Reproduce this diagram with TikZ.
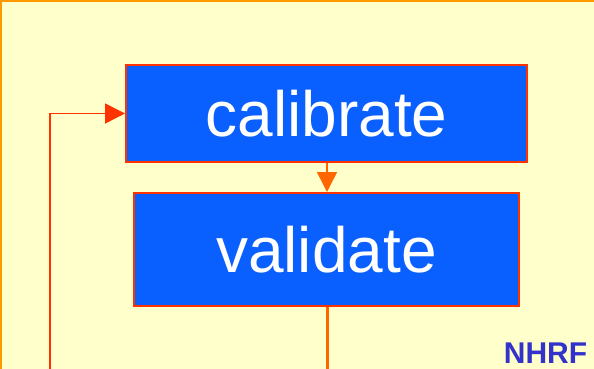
\documentclass[tikz,border=0pt]{standalone}
\usepackage{fontspec}
\setmainfont{Liberation Sans}
\usepackage{tikz}
\usepackage{xcolor}
\usetikzlibrary{arrows.meta,positioning,calc}

\definecolor{slidebg}{HTML}{FFFFCC}
\definecolor{slideframe}{HTML}{FF9900}
\definecolor{stepblue}{HTML}{0A5FFF}
\definecolor{redline}{HTML}{FF3300}
\definecolor{orangeline}{HTML}{FF6600}
\definecolor{logoblue}{HTML}{3333CC}

\begin{document}
\begin{tikzpicture}[x=1pt, y=-1pt, thick,
    stepbox/.style={draw=redline, line width=2pt, fill=stepblue, text=white,
        inner sep=0pt, font=\fontsize{64}{64}\selectfont},
    bigtip/.style={-{Triangle[length=20pt,width=20pt]}}]
    % slide background and frame
    \useasboundingbox (0,0) rectangle (594,369);
    \fill[slidebg] (0,0) rectangle (594,369);
    \fill[slideframe] (0,0) rectangle (594,2);
    \fill[slideframe] (0,0) rectangle (2,369);

    % Steps
    \node[stepbox, minimum width=401pt, minimum height=97pt] (calibrate) at (326.5,113.5) {calibrate};
    \node[stepbox, minimum width=385pt, minimum height=113pt] (validate) at (326.5,249.5) {validate};

    % Loose ends at the bottom edge
    \coordinate (loopend) at (50,369);
    \coordinate (downend) at (327,369);

    % Connections
    \draw[bigtip, orangeline, line width=1.5pt] (calibrate.south -| downend) -- (validate.north -| downend);
    \draw[orangeline, line width=3pt] (validate.south -| downend) -- (downend);
    \draw[bigtip, redline, line width=1.5pt] (loopend) |- (calibrate.west);

    % Logo
    \node[anchor=base, text=logoblue, inner sep=0pt, font=\fontsize{30}{30}\selectfont\bfseries] (logo) at (545.5,363) {NHRF};
\end{tikzpicture}
\end{document}
